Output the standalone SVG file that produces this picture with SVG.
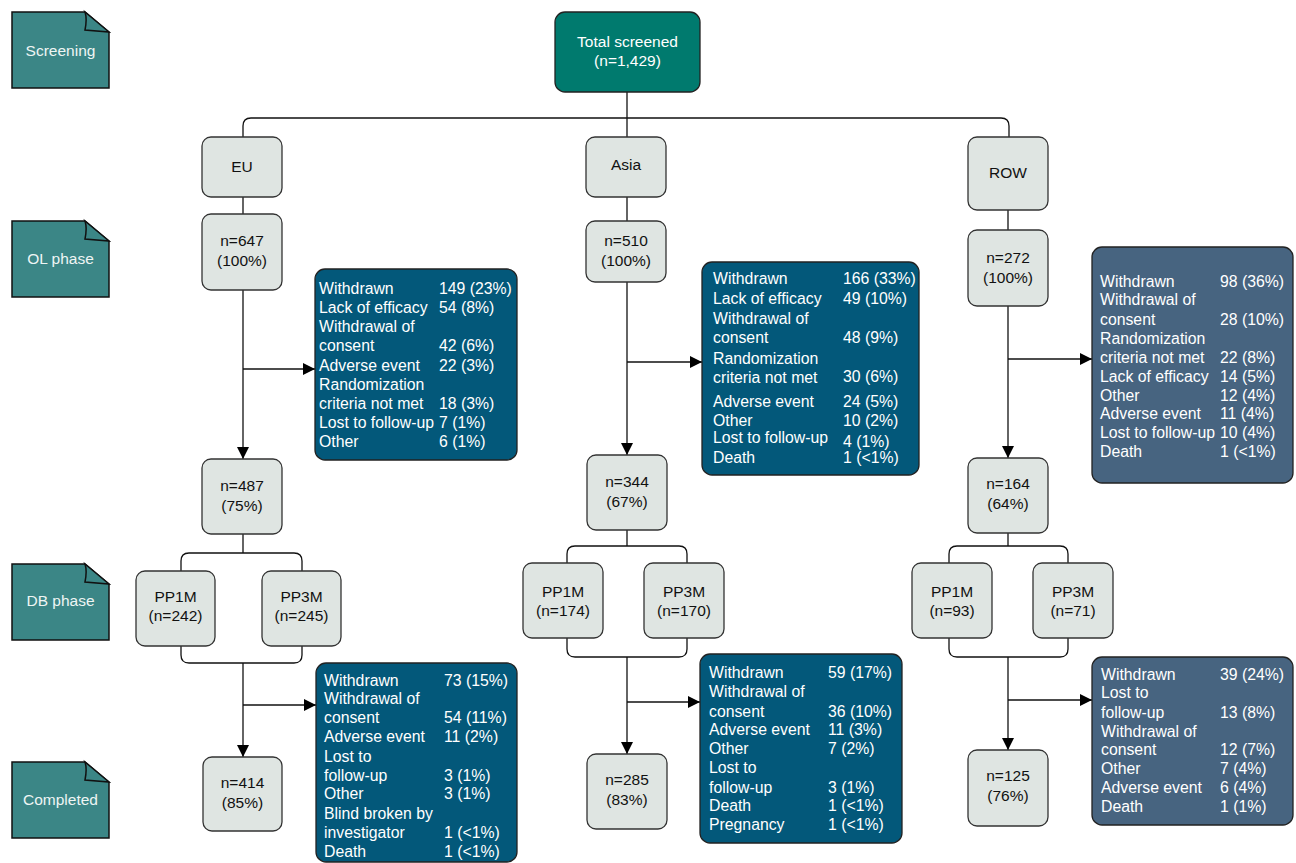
<svg xmlns="http://www.w3.org/2000/svg" width="1296" height="863" viewBox="0 0 1296 863">
<defs>
<marker id="ah" viewBox="0 0 12 12" refX="12" refY="6" markerWidth="12" markerHeight="12" markerUnits="userSpaceOnUse" orient="auto"><path d="M0,0 L12,6 L0,12 Z" fill="#000"/></marker>
<style>
.stage path.body{fill:#3b8686;stroke:#111;stroke-width:1.5}
.stage path.fold{fill:#3b8686;stroke:#111;stroke-width:1.5}
.stage text{fill:#eef5f4;font-family:"Liberation Sans",Arial,sans-serif;font-size:15.5px;text-anchor:middle}
.node rect{fill:#dfe5e2;stroke:#333;stroke-width:1.3}
.node text{fill:#111;font-family:"Liberation Sans",Arial,sans-serif;font-size:15.5px;text-anchor:middle}
.top rect{fill:#007a6e;stroke:#222;stroke-width:1.3}
.top text{fill:#fff;font-family:"Liberation Sans",Arial,sans-serif;font-size:15.5px;text-anchor:middle}
.bx rect{fill:#03587a;stroke:#222;stroke-width:1.3}
.bx.row rect{fill:#476480}
.bx text{fill:#fff;font-family:"Liberation Sans",Arial,sans-serif;font-size:15.8px}
.conn path{fill:none;stroke:#111;stroke-width:1.3}
.conn path.arr{marker-end:url(#ah)}
</style>
</defs>
<rect width="1296" height="863" fill="#fff"/>

<!-- stage labels -->
<g id="stage-screening" class="stage"><path class="body" d="M12,12 H85 L109,32 V88 H12 Z"/><path class="fold" d="M85,12 C87,18 86,25 85,30 L109,32 Z"/><text x="60.5" y="56">Screening</text></g>
<g id="stage-ol" class="stage"><path class="body" d="M12,221 H85 L109,241 V297 H12 Z"/><path class="fold" d="M85,221 C87,227 86,234 85,239 L109,241 Z"/><text x="60.5" y="264">OL phase</text></g>
<g id="stage-db" class="stage"><path class="body" d="M12,564 H85 L109,584 V640 H12 Z"/><path class="fold" d="M85,564 C87,570 86,577 85,582 L109,584 Z"/><text x="60.5" y="606">DB phase</text></g>
<g id="stage-completed" class="stage"><path class="body" d="M12,762 H85 L109,782 V838 H12 Z"/><path class="fold" d="M85,762 C87,768 86,775 85,780 L109,782 Z"/><text x="60.5" y="805">Completed</text></g>

<!-- connectors -->
<g id="connectors" class="conn">
<path d="M627,92 V137"/>
<path d="M243,137 V126 Q243,118 251,118 H1001 Q1009,118 1009,126 V137"/>
<!-- EU -->
<path d="M243,197 V214"/>
<path class="arr" d="M243,290 V459"/>
<path class="arr" d="M243,369 H315"/>
<path d="M243,534 V553"/>
<path d="M181,571 V561 Q181,553 189,553 H294 Q302,553 302,561 V571"/>
<path d="M181,646 V655 Q181,663 189,663 H294 Q302,663 302,655 V646"/>
<path class="arr" d="M243,663 V757"/>
<path class="arr" d="M243,705 H316"/>
<!-- Asia -->
<path d="M627,197 V221"/>
<path class="arr" d="M627,282 V455"/>
<path class="arr" d="M627,362 H702"/>
<path d="M627,530 V546"/>
<path d="M567,563 V554 Q567,546 575,546 H679 Q687,546 687,554 V563"/>
<path d="M567,638 V649 Q567,657 575,657 H679 Q687,657 687,649 V638"/>
<path class="arr" d="M627,657 V754"/>
<path class="arr" d="M627,702 H700"/>
<!-- ROW -->
<path d="M1008,210 V230"/>
<path class="arr" d="M1008,306 V458"/>
<path class="arr" d="M1008,359 H1092"/>
<path d="M1008,533 V546"/>
<path d="M949,563 V554 Q949,546 957,546 H1060 Q1068,546 1068,554 V563"/>
<path d="M949,638 V649 Q949,657 957,657 H1060 Q1068,657 1068,649 V638"/>
<path class="arr" d="M1008,657 V750"/>
<path class="arr" d="M1008,700 H1092"/>
</g>

<!-- top -->
<g id="total" class="top"><rect x="555" y="12" width="145" height="80" rx="10"/><text x="627.5" y="47">Total screened</text><text x="627.5" y="66">(n=1,429)</text></g>

<!-- EU column -->
<g id="eu" class="node"><rect x="202" y="137" width="80" height="60" rx="9"/><text x="242" y="172">EU</text></g>
<g id="eu-ol" class="node"><rect x="202" y="214" width="80" height="76" rx="9"/><text x="242" y="246">n=647</text><text x="242" y="266">(100%)</text></g>
<g id="eu-db" class="node"><rect x="202" y="459" width="80" height="75" rx="9"/><text x="242" y="491">n=487</text><text x="242" y="511">(75%)</text></g>
<g id="eu-pp1m" class="node"><rect x="136" y="571" width="79" height="75" rx="9"/><text x="175.5" y="602">PP1M</text><text x="175.5" y="621">(n=242)</text></g>
<g id="eu-pp3m" class="node"><rect x="262" y="571" width="79" height="75" rx="9"/><text x="301.5" y="602">PP3M</text><text x="301.5" y="621">(n=245)</text></g>
<g id="eu-completed" class="node"><rect x="203" y="757" width="79" height="74" rx="9"/><text x="242.5" y="788">n=414</text><text x="242.5" y="808">(85%)</text></g>

<!-- Asia column -->
<g id="asia" class="node"><rect x="586" y="137" width="80" height="60" rx="9"/><text x="626" y="170">Asia</text></g>
<g id="asia-ol" class="node"><rect x="586" y="221" width="80" height="61" rx="9"/><text x="626" y="246">n=510</text><text x="626" y="266">(100%)</text></g>
<g id="asia-db" class="node"><rect x="587" y="455" width="80" height="75" rx="9"/><text x="627" y="487">n=344</text><text x="627" y="507">(67%)</text></g>
<g id="asia-pp1m" class="node"><rect x="523" y="563" width="80" height="75" rx="9"/><text x="563" y="597">PP1M</text><text x="563" y="616">(n=174)</text></g>
<g id="asia-pp3m" class="node"><rect x="644" y="563" width="80" height="75" rx="9"/><text x="684" y="597">PP3M</text><text x="684" y="616">(n=170)</text></g>
<g id="asia-completed" class="node"><rect x="587" y="754" width="80" height="75" rx="9"/><text x="627" y="785">n=285</text><text x="627" y="805">(83%)</text></g>

<!-- ROW column -->
<g id="row" class="node"><rect x="968" y="137" width="80" height="73" rx="9"/><text x="1008" y="178">ROW</text></g>
<g id="row-ol" class="node"><rect x="968" y="230" width="80" height="76" rx="9"/><text x="1008" y="263">n=272</text><text x="1008" y="283">(100%)</text></g>
<g id="row-db" class="node"><rect x="968" y="458" width="80" height="75" rx="9"/><text x="1008" y="489">n=164</text><text x="1008" y="509">(64%)</text></g>
<g id="row-pp1m" class="node"><rect x="912" y="563" width="80" height="75" rx="9"/><text x="952" y="597">PP1M</text><text x="952" y="616">(n=93)</text></g>
<g id="row-pp3m" class="node"><rect x="1033" y="563" width="80" height="75" rx="9"/><text x="1073" y="597">PP3M</text><text x="1073" y="616">(n=71)</text></g>
<g id="row-completed" class="node"><rect x="968" y="750" width="80" height="76" rx="9"/><text x="1008" y="781">n=125</text><text x="1008" y="801">(76%)</text></g>

<!-- withdrawal boxes -->
<g id="eu-ol-withdrawn" class="bx"><rect x="315" y="269" width="202" height="191" rx="10"/>
<text x="319" y="294">Withdrawn</text><text x="439" y="294">149 (23%)</text>
<text x="319" y="313">Lack of efficacy</text><text x="439" y="313">54 (8%)</text>
<text x="319" y="332">Withdrawal of</text>
<text x="319" y="351">consent</text><text x="439" y="351">42 (6%)</text>
<text x="319" y="371">Adverse event</text><text x="439" y="371">22 (3%)</text>
<text x="319" y="390">Randomization</text>
<text x="319" y="409">criteria not met</text><text x="439" y="409">18 (3%)</text>
<text x="319" y="428">Lost to follow-up</text><text x="439" y="428">7 (1%)</text>
<text x="319" y="447">Other</text><text x="439" y="447">6 (1%)</text>
</g>
<g id="asia-ol-withdrawn" class="bx"><rect x="702" y="262" width="217" height="213" rx="10"/>
<text x="713" y="284">Withdrawn</text><text x="843" y="284">166 (33%)</text>
<text x="713" y="304">Lack of efficacy</text><text x="843" y="304">49 (10%)</text>
<text x="713" y="324">Withdrawal of</text>
<text x="713" y="343">consent</text><text x="843" y="343">48 (9%)</text>
<text x="713" y="364">Randomization</text>
<text x="713" y="383">criteria not met</text><text x="843" y="382">30 (6%)</text>
<text x="713" y="407">Adverse event</text><text x="843" y="407">24 (5%)</text>
<text x="713" y="426">Other</text><text x="843" y="426">10 (2%)</text>
<text x="713" y="443">Lost to follow-up</text><text x="843" y="447">4 (1%)</text>
<text x="713" y="463">Death</text><text x="843" y="463">1 (&lt;1%)</text>
</g>
<g id="row-ol-withdrawn" class="bx row"><rect x="1092" y="247" width="201" height="236" rx="10"/>
<text x="1100" y="287">Withdrawn</text><text x="1220" y="287">98 (36%)</text>
<text x="1100" y="305">Withdrawal of</text>
<text x="1100" y="325">consent</text><text x="1220" y="325">28 (10%)</text>
<text x="1100" y="344">Randomization</text>
<text x="1100" y="363">criteria not met</text><text x="1220" y="363">22 (8%)</text>
<text x="1100" y="382">Lack of efficacy</text><text x="1220" y="382">14 (5%)</text>
<text x="1100" y="401">Other</text><text x="1220" y="401">12 (4%)</text>
<text x="1100" y="419">Adverse event</text><text x="1220" y="419">11 (4%)</text>
<text x="1100" y="438">Lost to follow-up</text><text x="1220" y="438">10 (4%)</text>
<text x="1100" y="457">Death</text><text x="1220" y="457">1 (&lt;1%)</text>
</g>
<g id="eu-db-withdrawn" class="bx"><rect x="316" y="663" width="201" height="199" rx="10"/>
<text x="324" y="686">Withdrawn</text><text x="444" y="686">73 (15%)</text>
<text x="324" y="704">Withdrawal of</text>
<text x="324" y="723">consent</text><text x="444" y="723">54 (11%)</text>
<text x="324" y="742">Adverse event</text><text x="444" y="742">11 (2%)</text>
<text x="324" y="762">Lost to</text>
<text x="324" y="781">follow-up</text><text x="444" y="781">3 (1%)</text>
<text x="324" y="799">Other</text><text x="444" y="799">3 (1%)</text>
<text x="324" y="819">Blind broken by</text>
<text x="324" y="838">investigator</text><text x="444" y="838">1 (&lt;1%)</text>
<text x="324" y="857">Death</text><text x="444" y="857">1 (&lt;1%)</text>
</g>
<g id="asia-db-withdrawn" class="bx"><rect x="700" y="654" width="202" height="189" rx="10"/>
<text x="709" y="678">Withdrawn</text><text x="828" y="678">59 (17%)</text>
<text x="709" y="697">Withdrawal of</text>
<text x="709" y="717">consent</text><text x="828" y="717">36 (10%)</text>
<text x="709" y="735">Adverse event</text><text x="828" y="735">11 (3%)</text>
<text x="709" y="754">Other</text><text x="828" y="754">7 (2%)</text>
<text x="709" y="773">Lost to</text>
<text x="709" y="793">follow-up</text><text x="828" y="793">3 (1%)</text>
<text x="709" y="811">Death</text><text x="828" y="811">1 (&lt;1%)</text>
<text x="709" y="830">Pregnancy</text><text x="828" y="830">1 (&lt;1%)</text>
</g>
<g id="row-db-withdrawn" class="bx row"><rect x="1092" y="657" width="201" height="168" rx="10"/>
<text x="1101" y="680">Withdrawn</text><text x="1220" y="680">39 (24%)</text>
<text x="1101" y="698">Lost to</text>
<text x="1101" y="718">follow-up</text><text x="1220" y="718">13 (8%)</text>
<text x="1101" y="737">Withdrawal of</text>
<text x="1101" y="755">consent</text><text x="1220" y="755">12 (7%)</text>
<text x="1101" y="774">Other</text><text x="1220" y="774">7 (4%)</text>
<text x="1101" y="793">Adverse event</text><text x="1220" y="793">6 (4%)</text>
<text x="1101" y="812">Death</text><text x="1220" y="812">1 (1%)</text>
</g>
</svg>
